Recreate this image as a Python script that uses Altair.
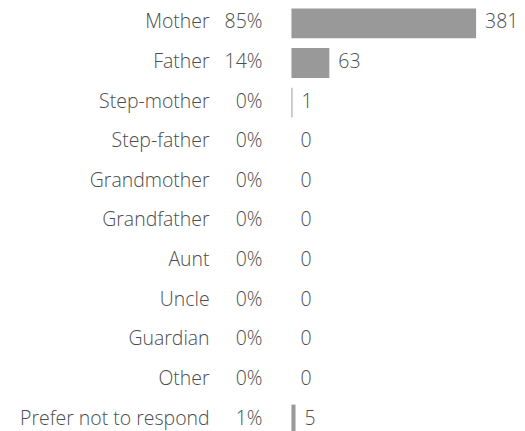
import altair as alt
import pandas as pd

categories = ["Mother", "Father", "Step-mother", "Step-father", "Grandmother",
              "Grandfather", "Aunt", "Uncle", "Guardian", "Other",
              "Prefer not to respond"]
percents = ["85%", "14%", "0%", "0%", "0%", "0%", "0%", "0%", "0%", "0%", "1%"]
counts = [381, 63, 1, 0, 0, 0, 0, 0, 0, 0, 5]

df = pd.DataFrame({"category": categories, "pct": percents, "count": counts})

FONT = "Open Sans"
FS = 19.5
FW = 300
TXT = "#4d4d4d"

yenc = alt.Y("category:N", sort=categories, axis=None,
             scale=alt.Scale(paddingInner=0.244, paddingOuter=0))
xscale = alt.Scale(type="pow", exponent=0.88, domain=[0, 381], nice=False)

base = alt.Chart(df).encode(y=yenc)

bars = base.mark_bar(color="#999999").encode(
    x=alt.X("count:Q", axis=None, scale=xscale))

values = base.mark_text(align="left", baseline="middle", dx=9, dy=-1,
                        font=FONT, fontSize=FS, fontWeight=FW, color=TXT).encode(
    x=alt.X("count:Q", axis=None, scale=xscale), text="count:Q")

pcts = base.mark_text(align="right", baseline="middle", dy=-1,
                      font=FONT, fontSize=FS, fontWeight=FW, color=TXT).encode(
    x=alt.value(-29), text="pct:N")

cats = base.mark_text(align="right", baseline="middle", dy=-1,
                      font=FONT, fontSize=FS, fontWeight=FW, color=TXT).encode(
    x=alt.value(-82), text="category:N")

chart = alt.layer(bars, values, pcts, cats).properties(
    width=185, height=427, autosize="none",
    padding={"left": 284, "top": 0, "right": 41, "bottom": 0},
).configure_view(stroke=None)

chart.save("out.html", embed_options={"renderer": "svg", "actions": False})
